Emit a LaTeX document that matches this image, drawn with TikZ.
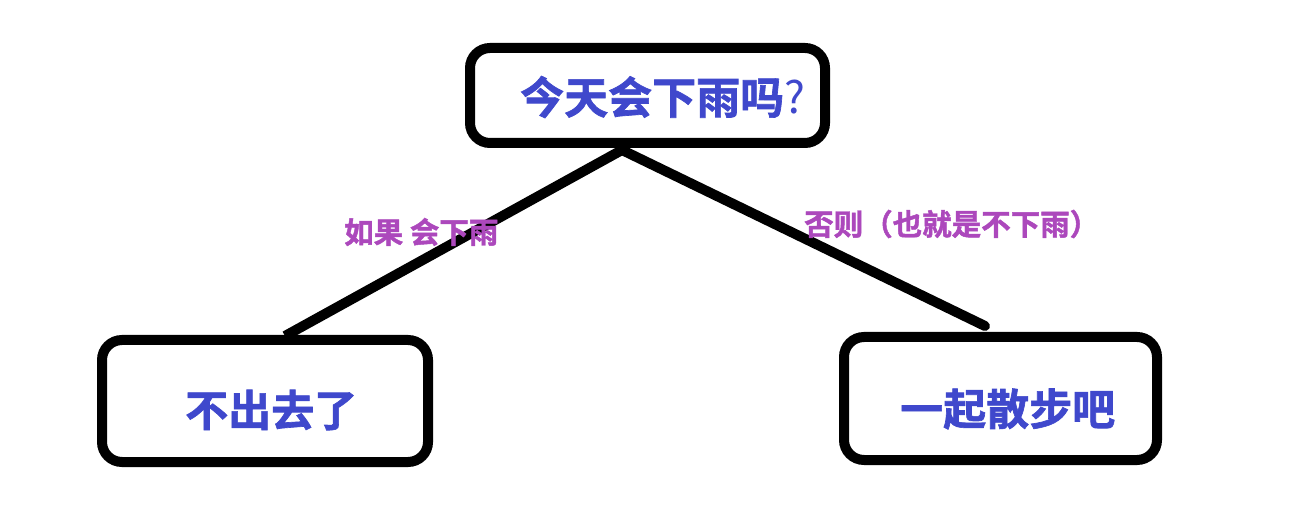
\documentclass[tikz,border=0pt]{standalone}
\usepackage{fontspec}
\newfontfamily\cjkb[BoldFont={Noto Sans CJK SC Bold},BoldFeatures={FakeBold=1.5}]{Noto Sans CJK SC}
\definecolor{txtblue}{HTML}{3F48CC}
\definecolor{lblpurple}{HTML}{AC48BC}
\tikzset{
  boxnode/.style={draw=black, line width=10pt, rounded corners=20pt, fill=white, inner sep=0pt},
  linkline/.style={draw=black, line width=10pt},
  maintext/.style={inner sep=0pt, anchor=west, text=txtblue, font=\cjkb\bfseries\fontsize{43}{50}\selectfont},
  lbltext/.style={inner sep=0pt, anchor=west, text=lblpurple, font=\cjkb\bfseries\fontsize{29.5}{34}\selectfont}
}
\begin{document}
\begin{tikzpicture}[x=1pt,y=-1pt]
\fill[white] (0,0) rectangle (1296,526);
\useasboundingbox (0,0) rectangle (1296,526);
% connector end points
\coordinate (apexL) at (622,150);
\coordinate (apexR) at (622,150);
\coordinate (endL) at (285,336);
\coordinate (endR) at (985,326);
\draw[linkline] (apexL) -- (endL);
\draw[linkline, line cap=round] (apexR) -- (endR);
% boxes
\node[boxnode, minimum width=355pt, minimum height=95pt] (topbox) at (647.5,95.5) {};
\node[boxnode, minimum width=326pt, minimum height=122pt] (leftbox) at (265,401) {};
\node[boxnode, minimum width=313pt, minimum height=123pt] (rightbox) at (1000.5,398.5) {};
% texts
\node[maintext, font=\cjkb\bfseries\fontsize{44}{50}\selectfont] (toptext) at (520,97) {今天会下雨吗\textmd{?}};
\node[maintext] (lefttext) at (185,410) {不出去了};
\node[maintext] (righttext) at (900,409) {一起散步吧};
\node[lbltext] (lblyes) at (344,232) {如果 会下雨};
\node[lbltext] (lblno) at (804,224) {否则（也就是不下雨）};
\end{tikzpicture}
\end{document}
